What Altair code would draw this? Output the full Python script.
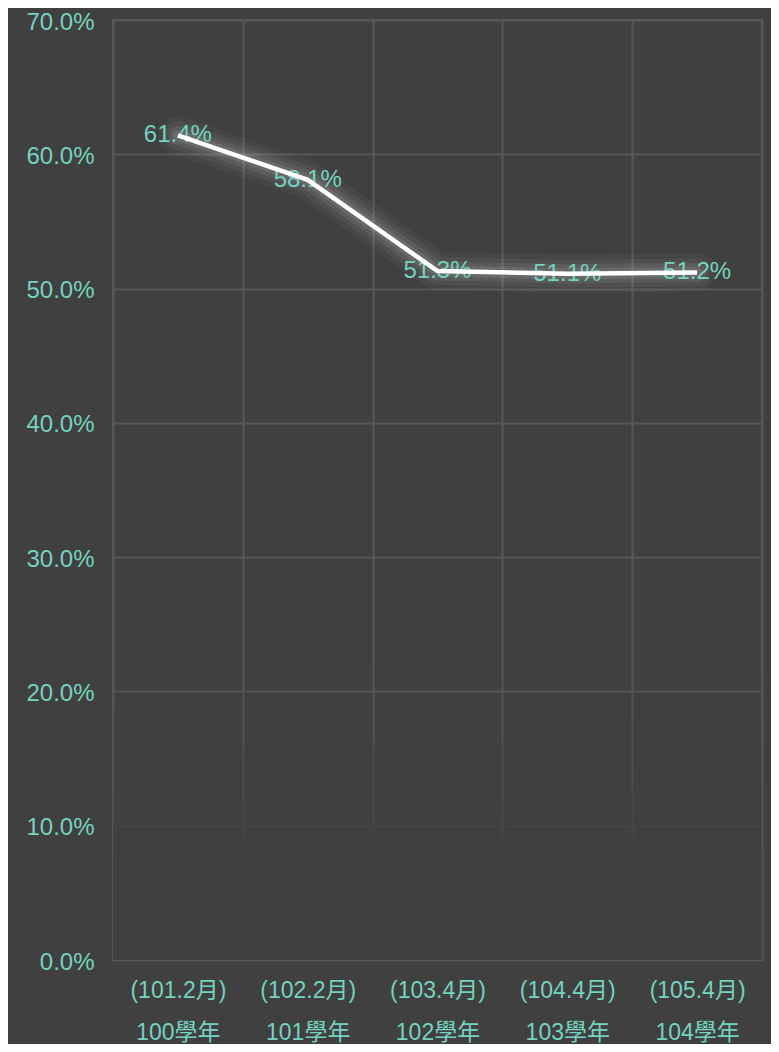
import altair as alt
import pandas as pd

# ---- data ----
years = ["100學年", "101學年", "102學年", "103學年", "104學年"]
months = ["(101.2月)", "(102.2月)", "(103.4月)", "(104.4月)", "(105.4月)"]
values_pct = [61.4, 58.1, 51.3, 51.1, 51.2]
y_ticks = [0, 0.1, 0.2, 0.3, 0.4, 0.5, 0.6, 0.7]

df = pd.DataFrame({
    "key": [f"{m}|{y}" for m, y in zip(months, years)],
    "pct": values_pct,
})

BG = "#404040"
TEAL = "#74d3bf"
GRID = "#575757"
FONT = "Liberation Sans, Arial, Noto Sans CJK TC"

base = alt.Chart(df).transform_calculate(v="datum.pct / 100")

x_enc = alt.X(
    "key:N",
    sort=None,
    scale=alt.Scale(paddingInner=0, paddingOuter=0),
    axis=alt.Axis(
        title=None,
        domain=False,
        ticks=False,
        grid=True,
        tickBand="extent",
        gridColor=GRID,
        gridWidth=2,
        labelAngle=0,
        labelColor=TEAL,
        labelFont=FONT,
        labelFontSize=23,
        labelPadding=19,
        labelBaseline="top",
        labelLineHeight=42,
        labelExpr="datum.value ? split(datum.value, '|') : ''",
    ),
)
y_enc = alt.Y(
    "v:Q",
    scale=alt.Scale(domain=[0, 0.7], nice=False),
    axis=alt.Axis(
        title=None,
        values=y_ticks,
        format=".1%",
        domain=False,
        ticks=False,
        grid=True,
        gridColor=GRID,
        gridWidth=2,
        labelColor=TEAL,
        labelFont=FONT,
        labelFontSize=24,
        labelPadding=19,
        labelOffset=2,
    ),
)

# fade-out of the grid toward the bottom
fade = alt.Chart(pd.DataFrame({"top": [0.225], "bottom": [0.0]})).mark_rect(
    fill=alt.Gradient(
        gradient="linear",
        stops=[
            alt.GradientStop(color="rgba(64,64,64,0)", offset=0),
            alt.GradientStop(color="rgba(64,64,64,0.6)", offset=0.45),
            alt.GradientStop(color="rgba(64,64,64,1)", offset=0.68),
            alt.GradientStop(color="rgba(64,64,64,1)", offset=1),
        ],
        x1=0, x2=0, y1=0, y2=1,
    )
).encode(
    x=alt.value(0),
    x2=alt.value("width"),
    y=alt.Y("top:Q", scale=alt.Scale(domain=[0, 0.7], nice=False)),
    y2="bottom:Q",
)

glow_layers = [
    base.mark_line(color="white", strokeWidth=w, opacity=o, strokeCap="round", strokeJoin="round")
    .encode(x=x_enc, y=y_enc)
    for w, o in [(38, 0.035), (28, 0.05), (19, 0.07), (11, 0.09)]
]

labels = base.mark_text(
    color=TEAL, font=FONT, fontSize=24, baseline="middle", align="center"
).encode(x=x_enc, y=y_enc, text=alt.Text("v:Q", format=".1%"))

line = base.mark_line(color="white", strokeWidth=4.5).encode(x=x_enc, y=y_enc)

chart = alt.layer(fade, *glow_layers, labels, line).properties(
    width=649,
    height=940,
    background=BG,
    padding={"left": 105, "top": 12, "right": 9, "bottom": 84},
    autosize=alt.AutoSizeParams(type="none"),
).configure_view(stroke=GRID, strokeWidth=2)

chart.save("out.html", embed_options={"renderer": "svg", "actions": False})
